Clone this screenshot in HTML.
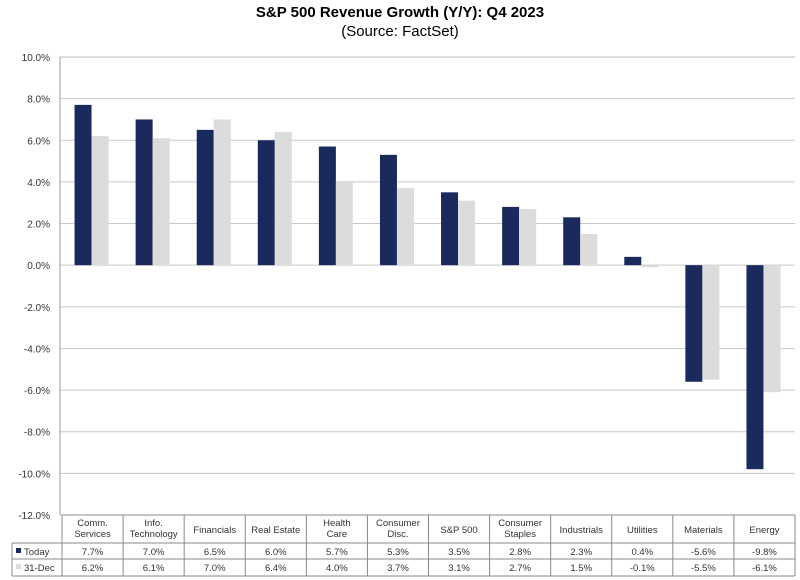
<!DOCTYPE html>
<html><head><meta charset="utf-8"><style>
body{margin:0;background:#fff;font-family:"Liberation Sans",sans-serif;}
#wrap{position:relative;width:800px;height:580px;overflow:hidden;}
</style></head><body>
<div id="wrap">
<svg id="svg" width="800" height="580" xmlns="http://www.w3.org/2000/svg" font-family="Liberation Sans, sans-serif">
<text x="400" y="17" text-anchor="middle" font-size="15" font-weight="bold">S&amp;P 500 Revenue Growth (Y/Y): Q4 2023</text>
<text x="400" y="36" text-anchor="middle" font-size="15">(Source: FactSet)</text>
<g id="grid"></g><g id="bars"></g><g id="table"></g>
</svg>
</div>
<script>
const categories=[["Comm.","Services"],["Info.","Technology"],["Financials"],["Real Estate"],["Health","Care"],["Consumer","Disc."],["S&P 500"],["Consumer","Staples"],["Industrials"],["Utilities"],["Materials"],["Energy"]];
const todayValues=[7.7,7.0,6.5,6.0,5.7,5.3,3.5,2.8,2.3,0.4,-5.6,-9.8];
const decValues=[6.2,6.1,7.0,6.4,4.0,3.7,3.1,2.7,1.5,-0.1,-5.5,-6.1];
const tickValues=[10,8,6,4,2,0,-2,-4,-6,-8,-10,-12];
const NS="http://www.w3.org/2000/svg";
const L=62,R=795,TOP=57,BOT=515,VMAX=10,VMIN=-12;
const y=v=>TOP+(VMAX-v)/(VMAX-VMIN)*(BOT-TOP);
const colW=(R-L)/categories.length;
const x=i=>L+i*colW;
function mk(tag,a,parent,txt){const e=document.createElementNS(NS,tag);for(const k in a)e.setAttribute(k,a[k]);if(txt!==undefined)e.textContent=txt;document.getElementById(parent).appendChild(e);return e;}
tickValues.forEach(t=>{
 const l=mk('line',{x1:L-2,x2:R,y1:y(t),y2:y(t),stroke:t===VMAX?'#bbb':'#c8c8c8','stroke-width':1},'grid');
 
 
 const tx=mk('text',{x:50,y:y(t)+4,'text-anchor':'end','font-size':10,fill:'#333'},'grid',t.toFixed(1)+'%');
 
 
});
const ax=mk('line',{x1:L-2,x2:L-2,y1:TOP,y2:BOT,stroke:'#999'},'grid');


const bw=17;
categories.forEach((c,i)=>{
 const cx=x(i)+colW/2;
 [[todayValues[i],'#1b2a5c',cx-bw-1],[decValues[i],'#dcdcdc',cx-1]].forEach(([v,col,bx],k)=>{
  const r=mk('rect',{x:bx,y:Math.min(y(v),y(0)),width:bw,height:Math.abs(y(v)-y(0)),fill:col},'bars');
  
  
 });
});
// table
const T0=515,T1=543,T2=559,T3=576;
[[L,T0,R,T0],[12,T1,R,T1],[12,T2,R,T2],[12,T3,R,T3],[12,T1,12,T3],[R,T0,R,T3]].forEach(s=>{
 const l=mk('line',{x1:s[0],y1:s[1],x2:s[2],y2:s[3],stroke:'#888'},'table');
 
 
});
for(let i=0;i<=categories.length;i++){
 const l=mk('line',{x1:x(i),x2:x(i),y1:T0,y2:T3,stroke:'#888'},'table');
 
 
}
categories.forEach((c,i)=>{
 const cx=x(i)+colW/2;
 c.forEach((ln,j)=>{
  const yy=c.length===1?533:526+j*11;
  const t=mk('text',{x:cx,y:yy,'text-anchor':'middle','font-size':9.5,fill:'#333'},'table',ln);
  
  
 });
 const a=mk('text',{x:cx,y:555,'text-anchor':'middle','font-size':9.5,fill:'#333'},'table',todayValues[i].toFixed(1)+'%');
 
 
 const b=mk('text',{x:cx,y:571,'text-anchor':'middle','font-size':9.5,fill:'#333'},'table',decValues[i].toFixed(1)+'%');
 
 
});
const k1=mk('rect',{x:16,y:548,width:5,height:5,fill:'#1b2a5c'},'table');


const k2=mk('rect',{x:16,y:564,width:5,height:5,fill:'#dcdcdc'},'table');


const l1=mk('text',{x:24,y:555,'font-size':9.5,fill:'#333'},'table','Today');


const l2=mk('text',{x:24,y:571,'font-size':9.5,fill:'#333'},'table','31-Dec');


</script>
</body></html>
